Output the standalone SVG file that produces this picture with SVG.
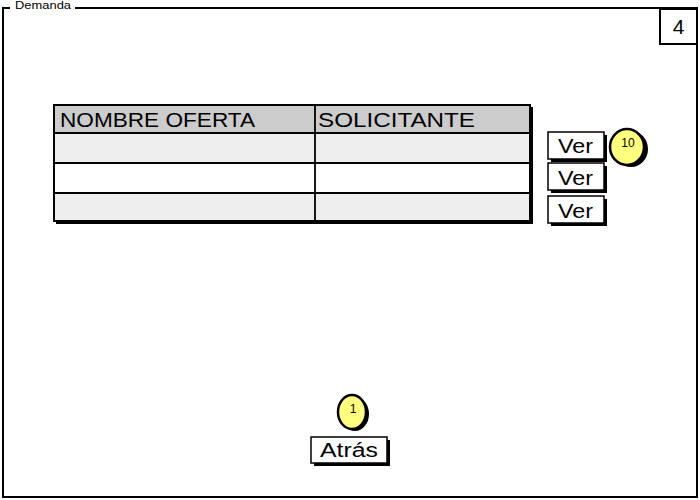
<svg xmlns="http://www.w3.org/2000/svg" width="700" height="500" viewBox="0 0 700 500">
<style>
.t{font-family:"Liberation Sans",Arial,sans-serif;fill:#000}
.ln{stroke:#000;stroke-width:2;fill:none}
.btn{fill:#fff;stroke:#000;stroke-width:1.5}
.sh{fill:#000}
.badge{fill:#ffff7f;stroke:#000;stroke-width:2.5}
</style>
<rect x="0" y="0" width="700" height="500" fill="#fff"/>
<g id="frame">
<path class="ln" d="M10,8 H3 V497 H697 V8 H75"/>
<text class="t" x="15" y="9" font-size="11" textLength="56" lengthAdjust="spacingAndGlyphs">Demanda</text>
</g>
<g id="page-number">
<rect x="660" y="9" width="37" height="35" fill="#fff" stroke="#000" stroke-width="2"/>
<text class="t" x="678.5" y="34" font-size="21" text-anchor="middle">4</text>
</g>
<g id="table">
<rect x="56" y="107" width="477" height="117" class="sh"/>
<rect x="54" y="105" width="476" height="28" fill="#cccccc"/>
<rect x="54" y="133" width="476" height="30" fill="#eeeeee"/>
<rect x="54" y="163" width="476" height="30" fill="#ffffff"/>
<rect x="54" y="193" width="476" height="28" fill="#eeeeee"/>
<rect x="54" y="105" width="476" height="116" fill="none" stroke="#000" stroke-width="2"/>
<path d="M54,133 H530 M54,163 H530 M54,193 H530 M315,105 V221" stroke="#000" stroke-width="1.8" fill="none"/>
<text class="t" x="60" y="127" font-size="21" textLength="195" lengthAdjust="spacingAndGlyphs">NOMBRE OFERTA</text>
<text class="t" x="318" y="127" font-size="21" textLength="157" lengthAdjust="spacingAndGlyphs">SOLICITANTE</text>
</g>
<g id="ver1">
<rect x="551" y="135" width="56" height="27" class="sh"/>
<rect x="548" y="132" width="56" height="27" class="btn"/>
<text class="t" x="558" y="153" font-size="20" textLength="35" lengthAdjust="spacingAndGlyphs">Ver</text>
</g>
<g id="ver2">
<rect x="551" y="166" width="56" height="27" class="sh"/>
<rect x="548" y="163" width="56" height="27" class="btn"/>
<text class="t" x="558" y="185" font-size="20" textLength="35" lengthAdjust="spacingAndGlyphs">Ver</text>
</g>
<g id="ver3">
<rect x="551" y="199" width="56" height="27" class="sh"/>
<rect x="548" y="196" width="56" height="27" class="btn"/>
<text class="t" x="558" y="218" font-size="20" textLength="35" lengthAdjust="spacingAndGlyphs">Ver</text>
</g>
<g id="badge10">
<ellipse cx="631" cy="149" rx="17" ry="18" class="sh"/>
<ellipse cx="627" cy="147" rx="17" ry="18" class="badge"/>
<text class="t" x="628" y="147" font-size="12" text-anchor="middle">10</text>
</g>
<g id="atras">
<rect x="314" y="440" width="76" height="26" class="sh"/>
<rect x="311" y="437" width="76" height="26" class="btn"/>
<text class="t" x="320" y="457" font-size="20" textLength="58" lengthAdjust="spacingAndGlyphs">Atrás</text>
</g>
<g id="badge1">
<ellipse cx="355" cy="414" rx="14" ry="17" class="sh"/>
<ellipse cx="352" cy="412" rx="14" ry="17" class="badge"/>
<text class="t" x="353" y="413" font-size="12" text-anchor="middle">1</text>
</g>
<g id="connectors"></g>
</svg>
